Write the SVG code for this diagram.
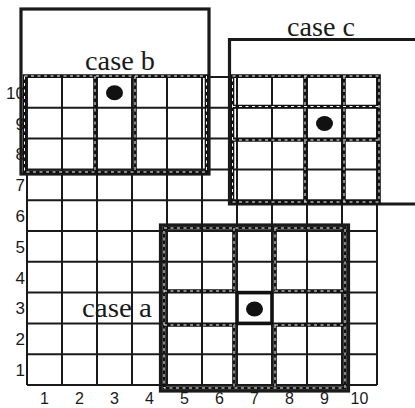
<svg xmlns="http://www.w3.org/2000/svg" width="415" height="408" viewBox="0 0 415 408">
<style>
.grid{fill:none;stroke:#1a1a1a;stroke-width:2}
.box{fill:none;stroke:#1a1a1a;stroke-width:3.2}
.dk{fill:none;stroke:#111;stroke-width:3.6}
.dw{fill:none;stroke:#fff;stroke-width:1;stroke-dasharray:3 3.5}
.ctr{fill:none;stroke:#111;stroke-width:3.6}
.dot{fill:#111}
.num{font-family:"Liberation Sans",Arial,sans-serif;font-size:17px;fill:#1a1a1a}
.xn{font-size:16px}
.lbl{font-family:"Liberation Serif","Times New Roman",serif;font-size:27px;fill:#1a1a1a}
</style>
<rect width="415" height="408" fill="#fff"/>
<g id="grid">
<path class="grid" d="M27 77V385M62 77V385M97 77V385M132 77V385M167 77V385M202 77V385M237 77V385M272 77V385M307 77V385M342 77V385M377 77V385M27 77H377M27 107.8H377M27 138.6H377M27 169.4H377M27 200.2H377M27 231H377M27 261.8H377M27 292.6H377M27 323.4H377M27 354.2H377M27 385H377"/>
</g>
<g id="axis-y" class="num" text-anchor="end">
<text x="25" y="376">1</text>
<text x="25" y="345">2</text>
<text x="25" y="314">3</text>
<text x="25" y="284">4</text>
<text x="25" y="253">5</text>
<text x="25" y="222">6</text>
<text x="25" y="191">7</text>
<text x="25" y="160">8</text>
<text x="25" y="130">9</text>
<text x="25" y="99">10</text>
</g>
<g id="axis-x" class="num xn" text-anchor="middle">
<text x="44.5" y="404">1</text>
<text x="79.5" y="404">2</text>
<text x="114.5" y="404">3</text>
<text x="149.5" y="404">4</text>
<text x="184.5" y="404">5</text>
<text x="219.5" y="404">6</text>
<text x="254.5" y="404">7</text>
<text x="289.5" y="404">8</text>
<text x="324.5" y="404">9</text>
<text x="359.5" y="404">10</text>
</g>
<g id="case-b">
<rect class="box" x="21" y="9" width="188" height="165"/>
<path class="dk" d="M24.5 76H206.5V172H24.5ZM95 76V172M135 76V172"/>
<path class="dw" d="M24.5 76H206.5V172H24.5ZM95 76V172M135 76V172"/>
<ellipse class="dot" cx="114.5" cy="92.8" rx="8.5" ry="7.5"/>
<text class="lbl" x="85" y="70" textLength="70" lengthAdjust="spacingAndGlyphs">case b</text>
</g>
<g id="case-c">
<path class="box" d="M415 39.5H229.5V204H415"/>
<path class="dk" d="M232.5 76H379V202H232.5ZM305 76V202M344 76V202M232.5 106.5H379M232.5 140H379"/>
<path class="dw" d="M232.5 76H379V202H232.5ZM305 76V202M344 76V202M232.5 106.5H379M232.5 140H379"/>
<ellipse class="dot" cx="324.5" cy="123.5" rx="8.5" ry="7.5"/>
<text class="lbl" x="287" y="36" textLength="68" lengthAdjust="spacingAndGlyphs">case c</text>
</g>
<g id="case-a">
<rect class="box" x="160.5" y="225" width="188" height="166"/>
<path class="dk" d="M164 228H345V388H164ZM234 228V291M234 325V388M275 228V291M275 325V388M164 291H234M275 291H345M164 325H234M275 325H345"/>
<path class="dw" d="M164 228H345V388H164ZM234 228V291M234 325V388M275 228V291M275 325V388M164 291H234M275 291H345M164 325H234M275 325H345"/>
<rect class="ctr" x="237" y="292.6" width="35" height="30.8"/>
<ellipse class="dot" cx="254.5" cy="309" rx="8.5" ry="7.5"/>
<text class="lbl" x="82" y="317" textLength="70" lengthAdjust="spacingAndGlyphs">case a</text>
</g>
<g id="connectors"/>
</svg>
